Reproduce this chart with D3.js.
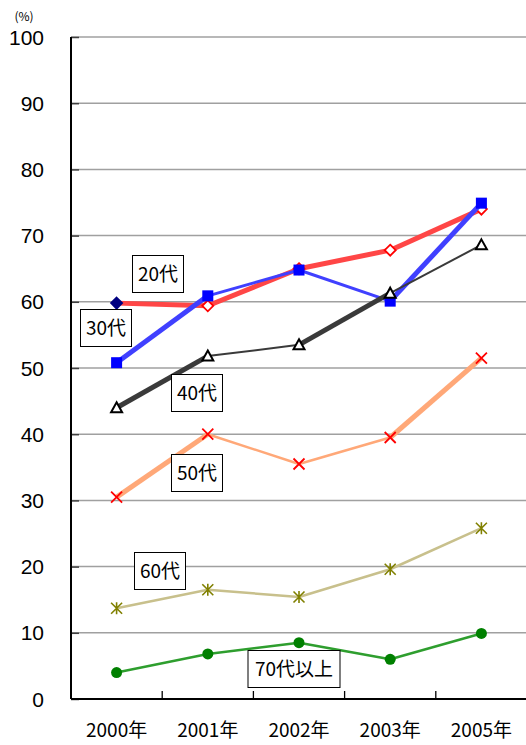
<!DOCTYPE html>
<html><head><meta charset="utf-8">
<script src="https://cdn.jsdelivr.net/npm/d3@7"></script>
<style>body{margin:0;background:#fff}svg{display:block}</style>
</head><body>
<svg id="c" width="526" height="745"></svg>
<script>
const categories = ["2000年","2001年","2002年","2003年","2005年"];
const yTicks = [0,10,20,30,40,50,60,70,80,90,100];
const s20 = [59.8, 59.4, 65.0, 67.8, 74.0];
const s30 = [50.8, 60.9, 64.8, 60.1, 74.9];
const s40 = [44.0, 51.8, 53.5, 61.3, 68.6];
const s50 = [30.5, 40.0, 35.5, 39.5, 51.5];
const s60 = [13.7, 16.5, 15.4, 19.6, 25.8];
const s70 = [4.0, 6.8, 8.5, 6.0, 9.9];
const seriesNames = ["20代","30代","40代","50代","60代","70代以上"];

const series = [
  {name:seriesNames[0], values:s20, color:"#ff4646", widths:[5,5,5,5], marker:"diamond", mcolor:"#ff0000", firstFill:"#000080", label:[158,274]},
  {name:seriesNames[1], values:s30, color:"#4040ff", widths:[5,3,3,5], marker:"square", mcolor:"#0000ff", label:[106,328]},
  {name:seriesNames[2], values:s40, color:"#3a3a3a", widths:[5,2,5,2], marker:"triangle", mcolor:"#000000", label:[197,393]},
  {name:seriesNames[3], values:s50, color:"#ffa878", widths:[5,2.5,2.5,5], marker:"x", mcolor:"#ff0000", label:[197,473]},
  {name:seriesNames[4], values:s60, color:"#c8c08c", widths:[2.5,2.5,2.5,2.5], marker:"star", mcolor:"#808000", label:[160,571]},
  {name:seriesNames[5], values:s70, color:"#2e9e2e", widths:[2.5,2.5,2.5,2.5], marker:"circle", mcolor:"#008000", label:[294,669]}
];

const svg = d3.select("#c");
const L=71, R=527, T=37, B=699;
const x = d3.scaleBand().domain(categories).range([L,R]);
const y = d3.scaleLinear().domain([0,100]).range([B,T]);
const cx = c => x(c)+x.bandwidth()/2;

// gridlines
svg.append("g").selectAll("line").data(yTicks.filter(d=>d>0)).join("line")
  .attr("x1",L).attr("x2",R).attr("y1",d=>y(d)).attr("y2",d=>y(d))
  .attr("stroke","#a0a0a0").attr("stroke-width",1.5);

// y axis
const ya = svg.append("g").attr("transform",`translate(${L},0)`)
  .call(d3.axisRight(y).tickValues(yTicks).tickSize(8).tickFormat(""));
ya.select(".domain").remove();
ya.selectAll("line").attr("stroke","#404040").attr("stroke-width",1.5);
svg.append("g").selectAll("text").data(yTicks).join("text")
  .attr("x",44).attr("y",d=>y(d)).attr("dy","0.36em").attr("text-anchor","end")
  .attr("font-family","Liberation Sans, Arial, sans-serif").attr("font-size",21)
  .attr("fill","#000").text(d=>d);
svg.append("text").attr("x",24).attr("y",21).attr("text-anchor","middle")
  .attr("font-family","Noto Sans CJK JP, sans-serif").attr("font-size",12).text("(%)");

// x axis
const xa = svg.append("g").attr("transform",`translate(0,${B})`)
  .call(d3.axisTop(x).tickSize(0).tickFormat(""));
xa.select(".domain").remove();
svg.append("g").selectAll("line").data(categories.slice(1)).join("line")
  .attr("x1",d=>x(d)).attr("x2",d=>x(d)).attr("y1",B).attr("y2",B-8)
  .attr("stroke","#000").attr("stroke-width",1.3);
svg.append("g").selectAll("text").data(categories).join("text")
  .attr("x",d=>cx(d)).attr("y",737).attr("text-anchor","middle")
  .attr("font-family","Noto Sans CJK JP, sans-serif").attr("font-size",19)
  .attr("fill","#000").text(d=>d);
svg.append("line").attr("x1",L).attr("x2",R).attr("y1",B).attr("y2",B).attr("stroke","#000").attr("stroke-width",2);
svg.append("line").attr("x1",L).attr("x2",L).attr("y1",T).attr("y2",B).attr("stroke","#000").attr("stroke-width",2);

function drawMarker(g, type, px, py, col, fill){
  const s=5.5;
  if(type==="diamond"){
    g.append("path").attr("d",`M${px},${py-s}L${px+s},${py}L${px},${py+s}L${px-s},${py}Z`)
      .attr("fill",fill||"#fff").attr("stroke",fill||col).attr("stroke-width",1.8);
  } else if(type==="square"){
    g.append("rect").attr("x",px-5.5).attr("y",py-5.5).attr("width",11).attr("height",11).attr("fill",col);
  } else if(type==="triangle"){
    g.append("path").attr("d",`M${px},${py-5.5}L${px+5.5},${py+4.5}L${px-5.5},${py+4.5}Z`)
      .attr("fill","#fff").attr("stroke",col).attr("stroke-width",2);
  } else if(type==="x"){
    g.append("path").attr("d",`M${px-5.5},${py-5.5}L${px+5.5},${py+5.5}M${px+5.5},${py-5.5}L${px-5.5},${py+5.5}`)
      .attr("stroke",col).attr("stroke-width",1.8);
  } else if(type==="star"){
    g.append("path").attr("d",`M${px-5.5},${py-5.5}L${px+5.5},${py+5.5}M${px+5.5},${py-5.5}L${px-5.5},${py+5.5}M${px},${py-6}L${px},${py+6}`)
      .attr("stroke",col).attr("stroke-width",1.6);
  } else if(type==="circle"){
    g.append("circle").attr("cx",px).attr("cy",py).attr("r",5.5).attr("fill",col);
  }
}

series.forEach(s=>{
  const g = svg.append("g");
  const pts = s.values.map((v,i)=>[cx(categories[i]), y(v)]);
  for(let i=0;i<pts.length-1;i++){
    g.append("path").attr("d",d3.line()([pts[i],pts[i+1]]))
      .attr("stroke",s.color).attr("stroke-width",s.widths[i]).attr("fill","none");
  }
  pts.forEach((p,i)=>drawMarker(g,s.marker,p[0],p[1],s.mcolor, i===0?s.firstFill:null));
});

// labels
series.forEach(s=>{
  const g = svg.append("g");
  const w = s.name.length>3 ? 92 : 51, h=37;
  g.append("rect").attr("x",s.label[0]-w/2).attr("y",s.label[1]-h/2).attr("width",w).attr("height",h)
    .attr("fill","#fff").attr("stroke","#000").attr("stroke-width",1);
  g.append("text").attr("x",s.label[0]).attr("y",s.label[1]).attr("dy","0.36em").attr("text-anchor","middle")
    .attr("font-family","Noto Sans CJK JP, sans-serif").attr("font-size",19).text(s.name);
});
</script>
</body></html>
